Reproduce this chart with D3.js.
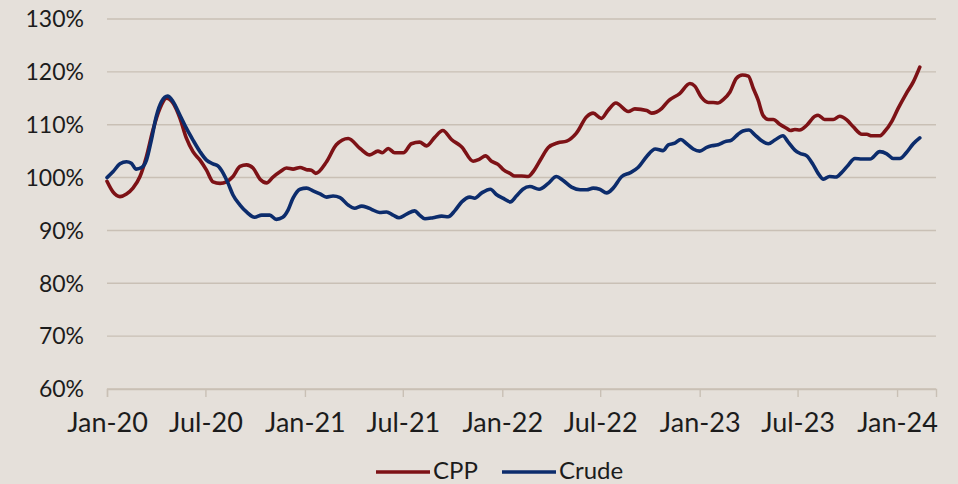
<!DOCTYPE html>
<html>
<head>
<meta charset="utf-8">
<script src="https://cdn.jsdelivr.net/npm/d3@7"></script>
<style>
  html, body { margin: 0; padding: 0; background: #E5E0DA; }
  svg { display: block; }
  text { font-family: Lato, "Open Sans", sans-serif; fill: #1c1c1c; }
</style>
</head>
<body>
<svg id="chart" width="958" height="484"></svg>
<script>
// ---------------- DATA ----------------
const yTickValues = [60, 70, 80, 90, 100, 110, 120, 130];
const xTickDates = ["2020-01-01","2020-07-01","2021-01-01","2021-07-01","2022-01-01","2022-07-01","2023-01-01","2023-07-01","2024-01-01"];
const xTickLabels = ["Jan-20","Jul-20","Jan-21","Jul-21","Jan-22","Jul-22","Jan-23","Jul-23","Jan-24"];
const seriesNames = ["CPP", "Crude"];

const cppDates = [
"2020-01-01","2020-01-12","2020-01-25","2020-02-06","2020-02-18","2020-03-02","2020-03-14","2020-03-26","2020-04-08","2020-04-20",
"2020-05-02","2020-05-15","2020-05-27","2020-06-08","2020-06-21","2020-07-03","2020-07-15","2020-07-28","2020-08-09","2020-08-21",
"2020-09-03","2020-09-15","2020-09-27","2020-10-10","2020-10-22","2020-11-03","2020-11-16","2020-11-28","2020-12-10","2020-12-23",
"2021-01-04","2021-01-13","2021-01-21","2021-02-10","2021-02-28","2021-03-22","2021-04-13","2021-05-01","2021-05-16","2021-05-24",
"2021-06-04","2021-06-16","2021-07-02","2021-07-17","2021-08-01","2021-08-14","2021-08-29","2021-09-13","2021-09-29","2021-10-18",
"2021-11-08","2021-11-20","2021-12-01","2021-12-12","2021-12-24","2022-01-04","2022-01-15","2022-01-24","2022-02-06","2022-02-18",
"2022-02-27","2022-03-14","2022-03-27","2022-04-14","2022-04-30","2022-05-18","2022-06-06","2022-06-18","2022-07-03","2022-07-16",
"2022-07-30","2022-08-22","2022-09-03","2022-09-25","2022-10-04","2022-10-23","2022-11-04","2022-11-25","2022-12-14","2022-12-23",
"2023-01-04","2023-01-17","2023-01-26","2023-02-04","2023-02-13","2023-02-26","2023-03-10","2023-03-21","2023-04-01","2023-04-10",
"2023-04-19","2023-04-28","2023-05-08","2023-05-17","2023-05-29","2023-06-11","2023-06-18","2023-06-26","2023-07-05","2023-07-18",
"2023-08-02","2023-08-08","2023-08-20","2023-09-05","2023-09-17","2023-09-30","2023-10-12","2023-10-28","2023-11-06","2023-11-15",
"2023-11-30","2023-12-09","2023-12-22","2024-01-03","2024-01-18","2024-01-31","2024-02-12"
];
const cppValues = [
99.3, 97.3, 96.4, 96.9, 98.0, 100.2, 104.0, 109.0, 113.1, 115.0,
114.1, 111.2, 107.4, 104.9, 103.3, 101.4, 99.2, 98.9, 99.2, 100.2,
102.1, 102.4, 101.8, 99.7, 99.0, 100.1, 101.1, 101.8, 101.6, 101.9,
101.5, 101.4, 100.8, 103.0, 106.2, 107.4, 105.5, 104.3, 105.0, 104.7,
105.5, 104.7, 104.7, 106.4, 106.7, 106.0, 107.6, 108.9, 107.2, 105.8,
103.1, 103.5, 104.1, 103.1, 102.5, 101.4, 100.8, 100.3, 100.3, 100.2,
101.1, 103.6, 105.7, 106.6, 106.9, 108.4, 111.5, 112.2, 111.2, 112.8,
114.1, 112.5, 113.0, 112.7, 112.2, 113.1, 114.5, 115.9, 117.8, 117.3,
115.2, 114.2, 114.2, 114.1, 114.7, 116.2, 118.8, 119.4, 119.2, 116.9,
114.7, 111.8, 111.0, 111.0, 110.1, 109.3, 108.9, 109.1, 109.0, 109.9,
111.6, 111.8, 111.0, 111.0, 111.6, 110.9, 109.6, 108.2, 108.2, 107.9,
107.9, 108.7, 110.6, 113.1, 115.9, 118.1, 120.9
];

const crudeDates = [
"2020-01-01","2020-01-12","2020-01-25","2020-02-06","2020-02-15","2020-02-24","2020-03-05","2020-03-14","2020-03-23","2020-04-01",
"2020-04-11","2020-04-22","2020-05-02","2020-05-15","2020-05-27","2020-06-08","2020-06-21","2020-07-03","2020-07-15","2020-07-24",
"2020-08-03","2020-08-12","2020-08-21","2020-09-03","2020-09-15","2020-09-30","2020-10-13","2020-10-28","2020-11-09","2020-11-21",
"2020-12-01","2020-12-10","2020-12-23","2021-01-04","2021-01-16","2021-01-29","2021-02-10","2021-02-22","2021-03-07","2021-03-22",
"2021-04-03","2021-04-16","2021-04-25","2021-05-04","2021-05-19","2021-06-01","2021-06-13","2021-06-24","2021-07-08","2021-07-23",
"2021-08-01","2021-08-11","2021-08-26","2021-09-11","2021-09-23","2021-10-05","2021-10-18","2021-11-02","2021-11-11","2021-11-24",
"2021-12-10","2021-12-21","2022-01-02","2022-01-16","2022-01-27","2022-02-08","2022-02-21","2022-03-10","2022-03-27","2022-04-11",
"2022-04-23","2022-05-09","2022-05-25","2022-06-06","2022-06-18","2022-06-30","2022-07-13","2022-07-25","2022-08-10","2022-08-25",
"2022-09-09","2022-09-25","2022-10-11","2022-10-25","2022-11-04","2022-11-16","2022-11-27","2022-12-08","2022-12-20","2023-01-01",
"2023-01-14","2023-01-23","2023-02-04","2023-02-17","2023-03-01","2023-03-13","2023-03-22","2023-04-02","2023-04-13","2023-04-25",
"2023-05-08","2023-05-20","2023-06-04","2023-06-13","2023-06-26","2023-07-05","2023-07-18","2023-07-30","2023-08-08","2023-08-18",
"2023-08-29","2023-09-10","2023-09-20","2023-10-03","2023-10-15","2023-10-28","2023-11-12","2023-11-30","2023-12-13","2023-12-25",
"2024-01-06","2024-01-18","2024-01-31","2024-02-12"
];
const crudeValues = [
100.0, 101.1, 102.6, 103.0, 102.7, 101.6, 101.9, 103.3, 107.1, 111.5,
114.4, 115.4, 114.4, 111.8, 109.3, 107.1, 104.9, 103.3, 102.6, 102.2,
100.8, 98.9, 96.7, 94.8, 93.5, 92.5, 92.9, 92.9, 92.1, 92.5,
93.9, 96.1, 97.8, 98.0, 97.5, 96.9, 96.3, 96.5, 96.2, 94.8,
94.2, 94.6, 94.4, 94.0, 93.4, 93.5, 92.9, 92.4, 93.1, 93.7,
92.9, 92.2, 92.4, 92.7, 92.6, 93.7, 95.4, 96.3, 96.1, 97.1,
97.8, 96.8, 96.1, 95.4, 96.5, 97.8, 98.3, 97.8, 98.9, 100.2,
99.5, 98.2, 97.7, 97.7, 98.0, 97.8, 97.1, 98.0, 100.2, 100.9,
101.9, 104.0, 105.4, 105.1, 106.2, 106.5, 107.2, 106.4, 105.4, 105.0,
105.7, 106.0, 106.2, 106.8, 107.1, 108.2, 108.8, 109.0, 108.1, 107.0,
106.4, 107.1, 107.9, 106.8, 105.2, 104.6, 104.1, 102.4, 100.8, 99.7,
100.2, 100.1, 100.9, 102.4, 103.6, 103.5, 103.5, 104.9, 104.5, 103.6,
103.6, 104.7, 106.4, 107.5
];

// ---------------- CHART ----------------
const parse = d3.timeParse("%Y-%m-%d");
const svg = d3.select("#chart");
const W = 958, H = 484;
const plotLeft = 107, plotRight = 936, plotTop = 19, plotBottom = 389;

svg.append("rect").attr("width", W).attr("height", H).attr("fill", "#E5E0DA");

const x = d3.scaleTime()
  .domain([parse("2020-01-01"), parse("2024-03-13")])
  .range([plotLeft, plotRight]);
const y = d3.scaleLinear().domain([60, 130]).range([plotBottom, plotTop]);

const gridColor = "#C9C0B5";

// gridlines
svg.append("g").selectAll("line")
  .data(yTickValues)
  .join("line")
  .attr("x1", plotLeft).attr("x2", plotRight)
  .attr("y1", d => y(d)).attr("y2", d => y(d))
  .attr("stroke", gridColor).attr("stroke-width", 1.4);

// y labels
svg.append("g").selectAll("text")
  .data(yTickValues)
  .join("text")
  .attr("x", 84)
  .attr("y", d => y(d))
  .attr("dy", "0.36em")
  .attr("text-anchor", "end")
  .style("font-size", "23px")
  .text(d => d + "%");

// x axis
const labelMap = new Map(xTickDates.map((d, i) => [+parse(d), xTickLabels[i]]));
const xAxis = d3.axisBottom(x)
  .tickValues(xTickDates.map(parse))
  .tickSize(8)
  .tickPadding(16)
  .tickFormat(d => labelMap.get(+d));
const gx = svg.append("g").attr("transform", `translate(0,${plotBottom})`).call(xAxis);
gx.select(".domain").attr("stroke", gridColor).attr("stroke-width", 1.4);
gx.selectAll(".tick line").attr("stroke", gridColor).attr("stroke-width", 1.4);
gx.selectAll(".tick text").style("font-size", "27px").style("font-family", "Lato, sans-serif").attr("fill", "#1c1c1c");

// lines
const line = d3.line()
  .x(d => x(d.date))
  .y(d => y(d.value))
  .curve(d3.curveMonotoneX);

const series = [
  { name: seriesNames[0], color: "#7D1216", data: cppDates.map((d, i) => ({ date: parse(d), value: cppValues[i] })) },
  { name: seriesNames[1], color: "#0C2C6C", data: crudeDates.map((d, i) => ({ date: parse(d), value: crudeValues[i] })) }
];

series.forEach(s => {
  svg.append("path")
    .datum(s.data)
    .attr("fill", "none")
    .attr("stroke", s.color)
    .attr("stroke-width", 3.6)
    .attr("stroke-linejoin", "round")
    .attr("stroke-linecap", "round")
    .attr("d", line);
});

// legend
const legend = svg.append("g");
const legendItems = [
  { name: seriesNames[0], color: series[0].color, x0: 376 },
  { name: seriesNames[1], color: series[1].color, x0: 502 }
];
legendItems.forEach(it => {
  legend.append("line")
    .attr("x1", it.x0).attr("x2", it.x0 + 54)
    .attr("y1", 472).attr("y2", 472)
    .attr("stroke", it.color).attr("stroke-width", 3.6);
  legend.append("text")
    .attr("x", it.x0 + 57).attr("y", 470.5).attr("dy", "0.36em")
    .style("font-size", "24px")
    .text(it.name);
});
</script>
</body>
</html>
